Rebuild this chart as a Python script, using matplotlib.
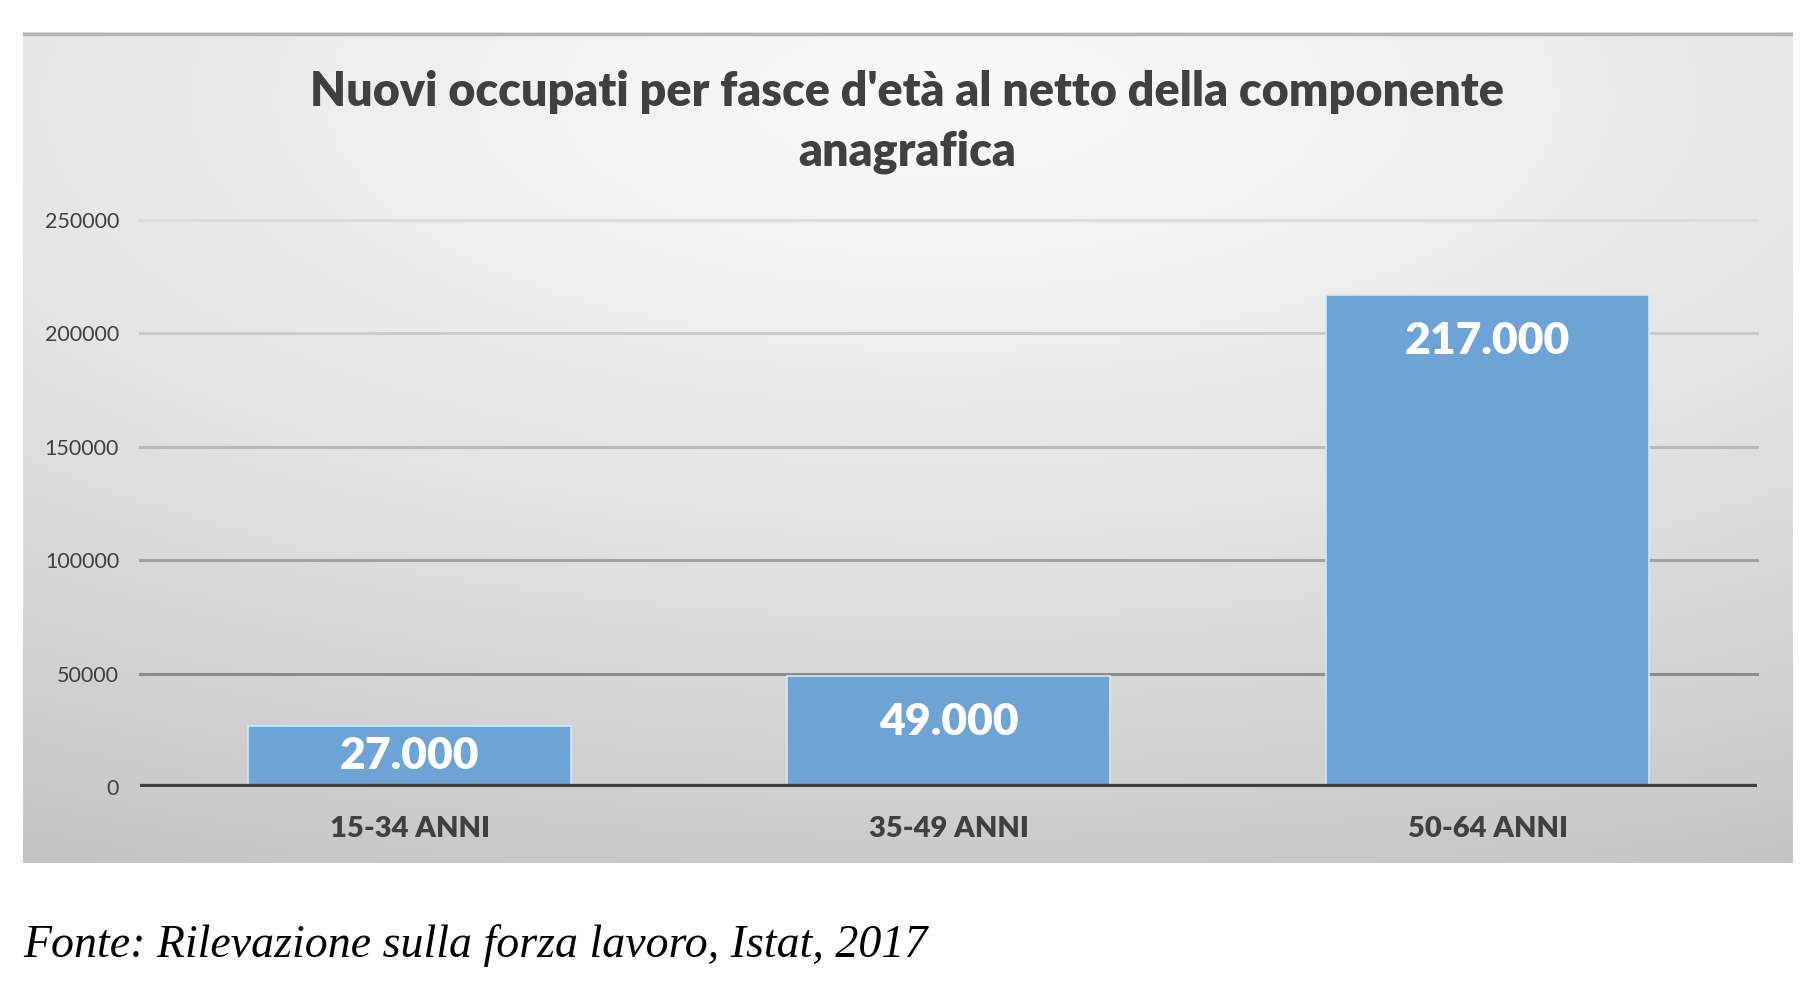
import numpy as np
import matplotlib.pyplot as plt
from matplotlib.colors import LinearSegmentedColormap

plt.rcParams["font.family"] = ["Lato", "DejaVu Sans"]

# data
categories = ["15-34 ANNI", "35-49 ANNI", "50-64 ANNI"]
values = [27000, 49000, 217000]
value_labels = ["27.000", "49.000", "217.000"]
y_ticks = [0, 50000, 100000, 150000, 200000, 250000]
title = "Nuovi occupati per fasce d'età al netto della componente\nanagrafica"
source = "Fonte: Rilevazione sulla forza lavoro, Istat, 2017"

W, H = 1804, 996
BAR_COLOR = "#6ea3d6"
TEXT_COLOR = "#404040"
# gridlines look darker towards the bottom because of the gradient fill
GRID_COLORS = {50000: "#8c8c8c", 100000: "#a2a2a2", 150000: "#bababa",
               200000: "#cbcbcb", 250000: "#dcdcdc"}

fig = plt.figure(figsize=(W / 100, H / 100), dpi=100)
fig.patch.set_facecolor("white")

# gray gradient panel behind the chart
px0, py0, px1, py1 = 23, 32, 1793, 863
bg = fig.add_axes([px0 / W, 1 - py1 / H, (px1 - px0) / W, (py1 - py0) / H])
gx, gy = np.meshgrid(np.linspace(0, 1, 400), np.linspace(0, 1, 200))
cx, cy = 0.52, 0.08
d = np.sqrt(((gx - cx) * 1.0) ** 2 + ((gy - cy) * 1.15) ** 2)
d = d / d.max()
cmap = LinearSegmentedColormap.from_list("bg", ["#fafafa", "#e4e4e4", "#c4c4c4"])
bg.imshow(d, cmap=cmap, aspect="auto", extent=[0, 1, 1, 0], vmin=0, vmax=1)
bg.plot([0, 1], [0.003, 0.003], color="#b5b5b5", lw=2.5)
bg.set_xlim(0, 1)
bg.set_ylim(1, 0)
bg.axis("off")

# main axes
ax_l, ax_r, y0, y250 = 140, 1757, 787, 220
ax = fig.add_axes([ax_l / W, 1 - y0 / H, (ax_r - ax_l) / W, (y0 - y250) / H])
ax.patch.set_alpha(0)

x = np.arange(len(categories))
for t in y_ticks[1:]:
    ax.axhline(t, color=GRID_COLORS[t], lw=2.2, zorder=1, clip_on=False)
ax.bar(x, values, width=0.6, color=BAR_COLOR, edgecolor="#d6e6f5", linewidth=1.2, zorder=2)
ax.axhline(0, color="#3f3f3f", lw=4.5, zorder=3)

for xi, v, lab in zip(x, values, value_labels):
    ypos = max(v - 20300, v / 2)
    ax.text(xi, ypos, lab, ha="center", va="center", color="white",
            fontsize=32, fontweight="heavy", zorder=4)

ax.set_xlim(-0.5, len(categories) - 0.5)
ax.set_ylim(0, 250000)
ax.set_yticks(y_ticks)
ax.set_yticklabels([str(t) for t in y_ticks], fontsize=15.5, color=TEXT_COLOR)
ax.set_xticks(x)
ax.set_xticklabels(categories, fontsize=21, fontweight="heavy", color=TEXT_COLOR)
ax.tick_params(axis="both", length=0)
ax.tick_params(axis="y", pad=15)
ax.tick_params(axis="x", pad=21)
for s in ax.spines.values():
    s.set_visible(False)

fig.text(907 / W, 1 - 122 / H, title, ha="center", va="center", fontsize=33.6,
         fontweight="heavy", color=TEXT_COLOR, linespacing=1.42)

fig.text(23 / W, 1 - 946 / H, source, ha="left", va="center", fontsize=33,
         style="italic", family="Liberation Serif", color="black")

fig.savefig("out.png", dpi=100)
